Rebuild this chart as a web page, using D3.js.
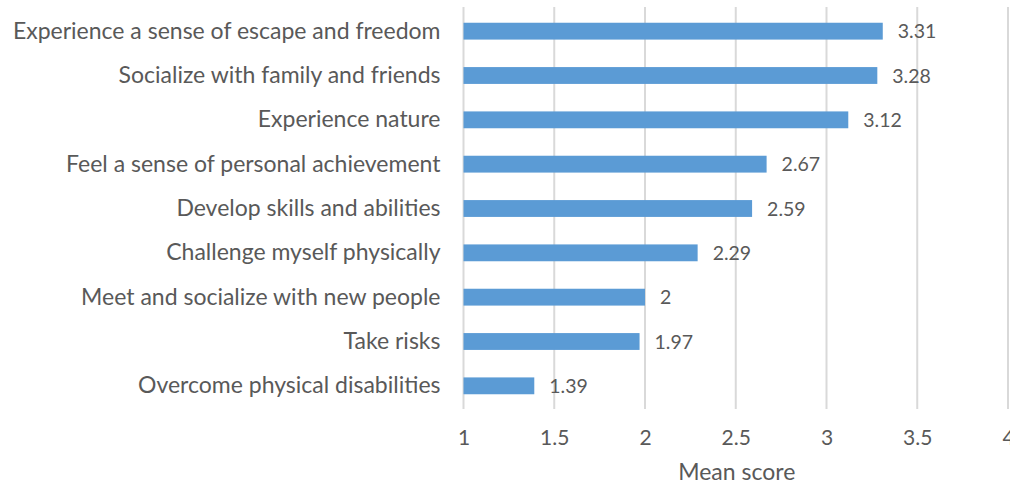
<!DOCTYPE html>
<html>
<head>
<meta charset="utf-8">
<script src="https://cdn.jsdelivr.net/npm/d3@7"></script>
<style>
  html, body { margin: 0; padding: 0; background: #fff; }
  svg { display: block; }
  text { font-family: "Lato", "Open Sans", sans-serif; fill: #595959; }
</style>
</head>
<body>
<svg id="chart" width="1010" height="486"></svg>
<script>
// Motivations for participation, mean score per item (1–4 scale)
const categories = [
  "Experience a sense of escape and freedom",
  "Socialize with family and friends",
  "Experience nature",
  "Feel a sense of personal achievement",
  "Develop skills and abilities",
  "Challenge myself physically",
  "Meet and socialize with new people",
  "Take risks",
  "Overcome physical disabilities"
];
const meanScores = [3.31, 3.28, 3.12, 2.67, 2.59, 2.29, 2, 1.97, 1.39];
const tickValues = [1, 1.5, 2, 2.5, 3, 3.5, 4];
const axisTitle = "Mean score";

const svg = d3.select("#chart");
const margin = { top: 9, left: 463.5, right: 2, bottom: 78 };
const width = 1010, height = 486;

const x = d3.scaleLinear().domain([1, 4]).range([margin.left, width - margin.right]);
const y = d3.scaleBand()
  .domain(categories)
  .range([margin.top, height - margin.bottom])
  .paddingInner(0.62)
  .paddingOuter(0.31);

// vertical gridlines
svg.append("g")
  .selectAll("line")
  .data(tickValues)
  .join("line")
  .attr("x1", d => x(d)).attr("x2", d => x(d))
  .attr("y1", margin.top - 2).attr("y2", height - margin.bottom + 1)
  .attr("stroke", "#d9d9d9")
  .attr("stroke-width", 2);

// x-axis tick labels
const xAxis = d3.axisBottom(x).tickValues(tickValues).tickSize(0).tickPadding(0)
  .tickFormat(d3.format("~g"));
const gx = svg.append("g")
  .attr("transform", "translate(0,445)")
  .call(xAxis);
gx.select(".domain").remove();
gx.selectAll("text")
  .attr("y", 0)
  .attr("dy", null)
  .attr("font-size", 21)
  .attr("font-family", null)
  .attr("fill", "#595959");

// category labels
const yAxis = d3.axisLeft(y).tickSize(0).tickPadding(0);
const gy = svg.append("g")
  .attr("transform", `translate(${margin.left - 23},0)`)
  .call(yAxis);
gy.select(".domain").remove();
gy.selectAll("text")
  .attr("font-size", 23)
  .attr("font-family", null)
  .attr("fill", "#595959");

// bars
svg.append("g")
  .selectAll("rect")
  .data(meanScores)
  .join("rect")
  .attr("x", x(1))
  .attr("y", (d, i) => y(categories[i]))
  .attr("width", d => x(d) - x(1))
  .attr("height", y.bandwidth())
  .attr("fill", "#5b9bd5");

// value labels
svg.append("g")
  .selectAll("text")
  .data(meanScores)
  .join("text")
  .attr("x", d => x(d) + 15)
  .attr("y", (d, i) => y(categories[i]) + y.bandwidth() / 2)
  .attr("dy", "0.36em")
  .attr("font-size", 19.5)
  .text(d => d3.format("~g")(d));

// axis title
svg.append("text")
  .attr("x", (x(1) + x(4)) / 2 + 1)
  .attr("y", 480)
  .attr("text-anchor", "middle")
  .attr("font-size", 23)
  .text(axisTitle);
</script>
</body>
</html>
